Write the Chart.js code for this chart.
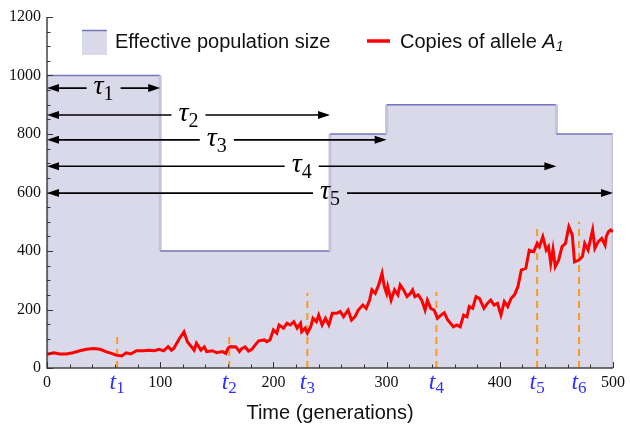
<!DOCTYPE html>
<html>
<head>
<meta charset="utf-8">
<script src="https://cdn.jsdelivr.net/npm/chart.js@4.4.1/dist/chart.umd.min.js"></script>
<style>
  html, body { margin: 0; padding: 0; background: #fff; }
  #wrap { width: 630px; height: 425px; }
</style>
</head>
<body>
<div id="wrap"><canvas id="drift" width="630" height="425"></canvas></div>
<script>
// effective population size, piecewise constant
const popStarts = [0, 100, 250, 300, 450];
const popEnds = [100, 250, 300, 450, 500];
const popSizes = [1000, 400, 800, 900, 800];

// copies of allele A1 over time
const alleleGens = [0, 6, 11, 17, 23, 29, 35, 41, 47, 52, 57, 61, 66, 70, 74, 79, 85, 90, 95, 99,
  103, 107, 110, 112, 117, 121, 124, 130, 132, 136, 139, 141, 146, 150, 155, 158, 160, 162, 167, 170,
  172, 175, 178, 181, 184, 187, 192, 194, 197, 200, 203, 205, 209, 212, 215, 218, 221, 224, 225, 228,
  230, 233, 235, 238, 240, 243, 246, 249, 252, 256, 259, 262, 265, 266, 269, 272, 275, 279, 282, 285,
  287, 290, 293, 296, 298, 300, 301, 304, 307, 310, 312, 315, 318, 321, 323, 325, 328, 331, 334, 336,
  339, 342, 345, 348, 351, 354, 359, 362, 365, 368, 371, 373, 376, 379, 382, 386, 389, 392, 395, 398,
  401, 404, 407, 410, 413, 416, 419, 423, 426, 430, 433, 435, 438, 441, 443, 445, 447, 449, 452, 455,
  458, 461, 464, 466, 470, 473, 475, 478, 482, 484, 487, 490, 493, 494, 496, 498, 500];
const alleleCopies = [47, 52, 48, 48, 52, 59, 64, 67, 64, 56, 50, 44, 41, 52, 48, 59, 59, 61, 59, 64,
  59, 73, 61, 67, 101, 124, 90, 61, 85, 61, 72, 56, 59, 52, 56, 50, 68, 73, 72, 56,
  66, 72, 58, 64, 79, 93, 96, 90, 96, 130, 119, 147, 136, 153, 147, 158, 136, 153, 124, 136,
  119, 141, 170, 158, 181, 147, 170, 147, 187, 187, 193, 175, 193, 198, 164, 175, 198, 215, 204, 232,
  267, 255, 284, 324, 278, 255, 278, 232, 267, 250, 284, 267, 244, 255, 267, 244, 250, 232, 198, 232,
  204, 198, 170, 181, 189, 164, 141, 147, 141, 181, 175, 210, 204, 244, 238, 204, 221, 232, 215, 221,
  181, 227, 210, 238, 250, 278, 335, 341, 403, 398, 426, 415, 449, 403, 415, 358, 406, 346, 369, 415,
  426, 483, 455, 363, 369, 381, 426, 403, 472, 409, 432, 443, 420, 449, 466, 472, 465];

// sampling times and the height of their dashed markers
const sampleNames = ['1', '2', '3', '4', '5', '6'];
const sampleTimes = [62, 161, 230, 344, 433, 470];
const sampleHeights = [120, 120, 256, 260, 482, 500];

// tau intervals, all measured from generation 0
const tauNames = ['1', '2', '3', '4', '5'];
const tauEnds = [100, 250, 300, 450, 500];
const tauLevels = [957, 865, 780, 690, 598];

const xTicks = [0, 100, 200, 300, 400, 500];

const POP_FILL = '#d9d9ea';
const POP_TOP = '#7474bb';
const POP_EDGE = '#c3c3de';
const RED = '#ff0000';
const ORANGE = '#f89a20';
const BLUE = '#3030ff';
const INK = '#111';

const popPoints = [{ x: 0, y: 0 }];
popStarts.forEach((s, i) => {
  popPoints.push({ x: s, y: popSizes[i] });
  popPoints.push({ x: popEnds[i], y: popSizes[i] });
});
popPoints.push({ x: popEnds[popEnds.length - 1], y: 0 });

const allelePoints = alleleGens.map((g, i) => ({ x: g, y: alleleCopies[i] }));

const markerPoints = [];
sampleTimes.forEach((t, i) => {
  markerPoints.push({ x: t, y: 0 }, { x: t, y: sampleHeights[i] }, { x: t, y: null });
});

const vertical = ctx => ctx.p0.parsed.x === ctx.p1.parsed.x;

// axis lines with inward ticks, like a plain plotting package
const axesPlugin = {
  id: 'axes',
  afterDatasetsDraw(chart) {
    const { ctx, chartArea: a, scales: { x, y } } = chart;
    ctx.save();
    ctx.strokeStyle = '#444';
    ctx.lineWidth = 1.5;
    ctx.beginPath();
    ctx.moveTo(a.left, a.top);
    ctx.lineTo(a.left, a.bottom);
    ctx.lineTo(a.right, a.bottom);
    ctx.stroke();
    ctx.lineWidth = 1;
    ctx.strokeStyle = '#333';
    for (let v = 0; v <= 1200; v += 50) {
      const py = Math.round(y.getPixelForValue(v)) + 0.5;
      const len = v % 200 === 0 ? 6 : 3.5;
      ctx.beginPath();
      ctx.moveTo(a.left, py);
      ctx.lineTo(a.left + len, py);
      ctx.stroke();
    }
    for (let v = 0; v <= 500; v += 20) {
      const px = Math.round(x.getPixelForValue(v)) + 0.5;
      const len = v % 100 === 0 ? 6 : 3.5;
      ctx.beginPath();
      ctx.moveTo(px, a.bottom);
      ctx.lineTo(px, a.bottom - len);
      ctx.stroke();
    }
    ctx.restore();
  }
};

function drawSubscripted(ctx, cx, baseY, main, mainFont, sub, subFont, subDrop, color) {
  ctx.font = mainFont;
  const w1 = ctx.measureText(main).width;
  ctx.font = subFont;
  const w2 = ctx.measureText(sub).width;
  const left = cx - (w1 + w2) / 2;
  ctx.fillStyle = color;
  ctx.textBaseline = 'alphabetic';
  ctx.textAlign = 'left';
  ctx.font = mainFont;
  ctx.fillText(main, left, baseY);
  ctx.font = subFont;
  ctx.fillText(sub, left + w1, baseY + subDrop);
  return { left, right: left + w1 + w2 };
}

function arrowHead(ctx, tipX, y, dir) {
  ctx.beginPath();
  ctx.moveTo(tipX, y);
  ctx.lineTo(tipX - dir * 12, y - 4);
  ctx.lineTo(tipX - dir * 12, y + 4);
  ctx.closePath();
  ctx.fill();
}

const notesPlugin = {
  id: 'notes',
  afterDraw(chart) {
    const { ctx, chartArea: a, scales: { x, y } } = chart;
    ctx.save();

    // tau arrows
    ctx.strokeStyle = '#000';
    ctx.fillStyle = '#000';
    ctx.lineWidth = 1.6;
    tauEnds.forEach((end, i) => {
      const x0 = x.getPixelForValue(0);
      const x1 = x.getPixelForValue(end);
      const py = y.getPixelForValue(tauLevels[i]);
      const box = drawSubscripted(ctx, (x0 + x1) / 2, py + 6, '\u03c4',
        'italic 28px "Liberation Serif"', tauNames[i], '20px "Liberation Serif"', 6, '#000');
      ctx.beginPath();
      ctx.moveTo(x0 + 4, py);
      ctx.lineTo(box.left - 7, py);
      ctx.moveTo(box.right + 7, py);
      ctx.lineTo(x1 - 4, py);
      ctx.stroke();
      arrowHead(ctx, x0, py, -1);
      arrowHead(ctx, x1, py, 1);
    });

    // sample time labels under the axis
    sampleTimes.forEach((t, i) => {
      drawSubscripted(ctx, x.getPixelForValue(t), a.bottom + 21, 't',
        'italic 24px "Liberation Serif"', sampleNames[i], '17px "Liberation Serif"', 4, BLUE);
    });

    // legend
    const ds = chart.data.datasets;
    ctx.fillStyle = POP_FILL;
    ctx.fillRect(82, 30, 25, 25);
    ctx.strokeStyle = POP_TOP;
    ctx.lineWidth = 1.5;
    ctx.beginPath();
    ctx.moveTo(82, 30.5);
    ctx.lineTo(107, 30.5);
    ctx.stroke();
    ctx.fillStyle = INK;
    ctx.font = '20px "Liberation Sans"';
    ctx.textAlign = 'left';
    ctx.textBaseline = 'middle';
    ctx.fillText(ds[0].label, 115, 42);

    ctx.strokeStyle = RED;
    ctx.lineWidth = 3.5;
    ctx.beginPath();
    ctx.moveTo(367, 41);
    ctx.lineTo(390, 41);
    ctx.stroke();
    ctx.fillStyle = INK;
    ctx.font = '20px "Liberation Sans"';
    const lead = ds[3].label + ' ';
    ctx.fillText(lead, 400, 42);
    let lx = 400 + ctx.measureText(lead).width;
    ctx.font = 'italic 20px "Liberation Sans"';
    ctx.fillText('A', lx, 42);
    lx += ctx.measureText('A').width;
    ctx.font = 'italic 14px "Liberation Sans"';
    ctx.fillText('1', lx, 47);

    ctx.restore();
  }
};

new Chart(document.getElementById('drift'), {
  type: 'line',
  data: {
    datasets: [
      {
        // area under the step curve, one unbroken fill
        label: 'Effective population size',
        data: popPoints,
        fill: 'origin',
        backgroundColor: POP_FILL,
        borderWidth: 0,
        borderColor: 'rgba(0,0,0,0)',
        pointRadius: 0,
        tension: 0,
        order: 4
      },
      {
        // outline: dark tops, pale step edges
        label: 'Population outline',
        data: popPoints,
        fill: false,
        pointRadius: 0,
        tension: 0,
        order: 3,
        borderColor: POP_TOP,
        borderWidth: 1.5,
        segment: {
          borderColor: ctx => vertical(ctx) ? POP_EDGE : POP_TOP,
          borderWidth: ctx => vertical(ctx) ? 3 : 1.5
        }
      },
      {
        label: 'Sampling times',
        data: markerPoints,
        borderColor: ORANGE,
        borderWidth: 2,
        borderDash: [7, 5],
        pointRadius: 0,
        spanGaps: false,
        fill: false,
        order: 2
      },
      {
        label: 'Copies of allele',
        data: allelePoints,
        borderColor: RED,
        borderWidth: 3,
        pointRadius: 0,
        tension: 0,
        fill: false,
        order: 1
      }
    ]
  },
  options: {
    responsive: false,
    animation: false,
    events: [],
    layout: { padding: { top: 17, right: 14, left: 0, bottom: 0 } },
    plugins: {
      legend: { display: false },
      tooltip: { enabled: false }
    },
    scales: {
      x: {
        type: 'linear',
        min: 0,
        max: 500,
        afterFit: s => { s.height = 57; },
        afterBuildTicks: s => { s.ticks = xTicks.map(v => ({ value: v })); },
        grid: { display: false, drawTicks: false },
        border: { display: false },
        ticks: {
          padding: 5,
          maxRotation: 0,
          color: INK,
          callback: v => String(v),
          font: { family: '"Liberation Serif"', size: 16 }
        },
        title: {
          display: true,
          text: 'Time (generations)',
          color: INK,
          padding: { top: 0, bottom: 0 },
          font: { family: '"Liberation Sans"', size: 20 }
        }
      },
      y: {
        min: 0,
        max: 1200,
        afterFit: s => { s.width = 47; },
        grid: { display: false, drawTicks: false },
        border: { display: false },
        ticks: {
          stepSize: 200,
          padding: 6,
          color: INK,
          callback: v => String(v),
          font: { family: '"Liberation Serif"', size: 16 }
        }
      }
    }
  },
  plugins: [axesPlugin, notesPlugin]
});
</script>
</body>
</html>
